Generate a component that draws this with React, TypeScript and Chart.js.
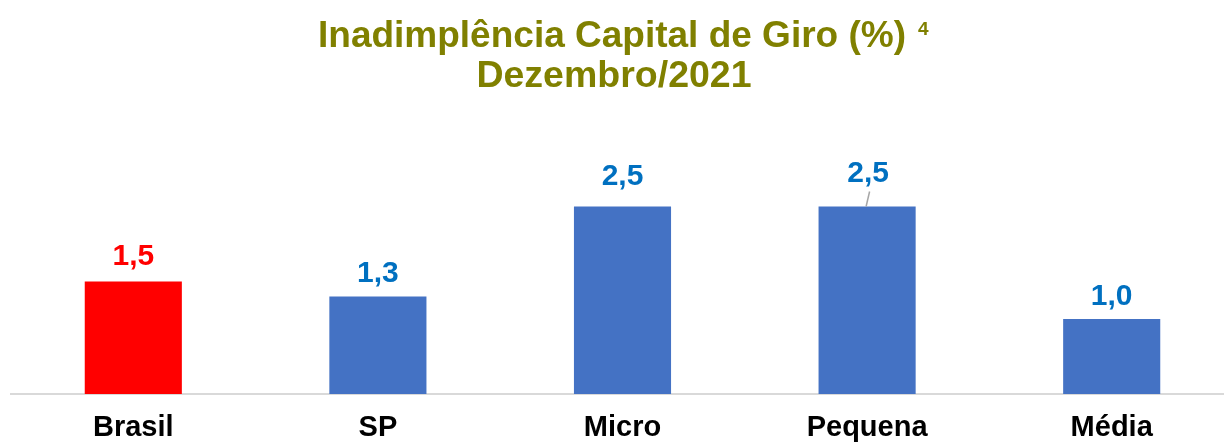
import React, { useEffect, useRef } from "react";
import { Chart, registerables } from "chart.js";

Chart.register(...registerables);

const titleLine1 = "Inadimplência Capital de Giro (%)";
const titleSup = "4";
const titleLine2 = "Dezembro/2021";

const categories = ["Brasil", "SP", "Micro", "Pequena", "Média"];
const values = [1.5, 1.3, 2.5, 2.5, 1.0];

const barColors = ["#FF0000", "#4472C4", "#4472C4", "#4472C4", "#4472C4"];
const labelColors = ["#FF0000", "#0070C0", "#0070C0", "#0070C0", "#0070C0"];
const labelGaps = [17, 15, 22, 25, 14];
const leaderLine = [false, false, false, true, false];

const FONT = "'Liberation Sans', Arial, Helvetica, sans-serif";
const VIEW_W = 1224;
const CANVAS_W = 1236;
const CANVAS_H = 444;

const titlePlugin = {
  id: "customTitle",
  afterDraw(chart: any) {
    const ctx = chart.ctx;
    const cx = VIEW_W / 2;
    ctx.save();
    ctx.fillStyle = "#808000";
    ctx.textBaseline = "alphabetic";
    ctx.textAlign = "left";
    ctx.font = `bold 37px ${FONT}`;
    const w1 = ctx.measureText(titleLine1).width;
    const x0 = cx - w1 / 2;
    ctx.fillText(titleLine1, x0, 47);
    ctx.font = `bold 19px ${FONT}`;
    ctx.fillText(titleSup, x0 + w1 + 12, 35);
    ctx.font = `bold 37.5px ${FONT}`;
    ctx.textAlign = "center";
    ctx.fillText(titleLine2, cx + 2, 87);
    ctx.restore();
  },
};

const valueLabelPlugin = {
  id: "valueLabels",
  afterDatasetsDraw(chart: any) {
    const ctx = chart.ctx;
    const meta = chart.getDatasetMeta(0);
    ctx.save();
    ctx.font = `bold 30px ${FONT}`;
    ctx.textAlign = "center";
    ctx.textBaseline = "alphabetic";
    meta.data.forEach((bar: any, i: number) => {
      const v = values[i];
      const text = v.toFixed(1).replace(".", ",");
      const baseY = bar.y - labelGaps[i];
      ctx.fillStyle = labelColors[i];
      ctx.fillText(text, bar.x + (leaderLine[i] ? 1 : 0), baseY);
      if (leaderLine[i]) {
        ctx.strokeStyle = "#A6A6A6";
        ctx.lineWidth = 1.5;
        ctx.beginPath();
        ctx.moveTo(bar.x + 2.5, baseY + 10);
        ctx.lineTo(bar.x - 1, bar.y);
        ctx.stroke();
      }
    });
    ctx.restore();
  },
};

export default function App() {
  const ref = useRef<HTMLCanvasElement | null>(null);

  useEffect(() => {
    document.body.style.margin = "0";
    if (!ref.current) return;
    const chart = new Chart(ref.current, {
      type: "bar",
      data: {
        labels: categories,
        datasets: [
          {
            data: values,
            backgroundColor: barColors,
            borderWidth: 0,
            categoryPercentage: 1,
            barPercentage: 0.397,
          },
        ],
      },
      options: {
        responsive: false,
        animation: false,
        layout: {
          padding: { top: 169, left: 11, right: 2, bottom: 0 },
        },
        plugins: {
          legend: { display: false },
          title: { display: false },
          tooltip: { enabled: false },
        },
        scales: {
          x: {
            offset: true,
            grid: { display: false, drawTicks: false },
            border: { display: true, color: "#D9D9D9", width: 2 },
            ticks: {
              color: "#000000",
              font: { family: FONT, size: 29, weight: "bold" },
              padding: 17,
              maxRotation: 0,
            },
            afterFit(scale: any) {
              scale.height = 50;
            },
          },
          y: {
            display: false,
            min: 0,
            max: 3,
          },
        },
      },
      plugins: [titlePlugin, valueLabelPlugin],
    });
    return () => chart.destroy();
  }, []);

  return (
    <div
      style={{
        position: "absolute",
        left: 0,
        top: 0,
        width: VIEW_W,
        height: CANVAS_H,
        overflow: "hidden",
      }}
    >
      <canvas ref={ref} width={CANVAS_W} height={CANVAS_H} style={{ display: "block" }} />
    </div>
  );
}
